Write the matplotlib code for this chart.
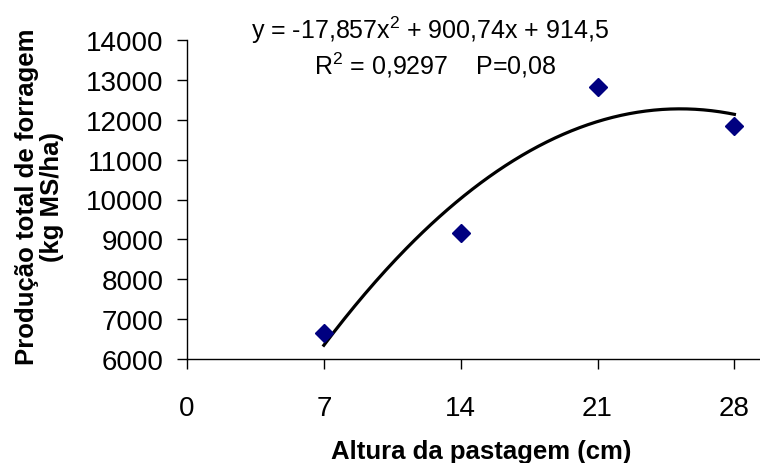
import numpy as np
import matplotlib
matplotlib.use('Agg')
import matplotlib.pyplot as plt

plt.rcParams['font.family'] = ['Liberation Sans', 'DejaVu Sans']
plt.rcParams['mathtext.fontset'] = 'custom'
plt.rcParams['mathtext.rm'] = 'Liberation Sans'
plt.rcParams['mathtext.default'] = 'regular'

# observed data
altura = [7, 14, 21, 28]
producao = [6650, 9160, 12820, 11845]

# quadratic trend line coefficients (a, b, c) as shown on the chart
coef = [-17.857, 900.74, 914.5]

x_ticks = [0, 7, 14, 21, 28]
y_ticks = [6000, 7000, 8000, 9000, 10000, 11000, 12000, 13000, 14000]

fig = plt.figure(figsize=(7.6, 4.64), dpi=100)
ax = fig.add_axes([187 / 760, 104 / 464, 573 / 760, 319 / 464])

x_fit = np.linspace(min(altura), max(altura), 200)
y_fit = np.polyval(coef, x_fit)
ax.plot(x_fit, y_fit, color='black', linewidth=2.3, zorder=2)
ax.plot(altura, producao, linestyle='none', marker='D', markersize=9,
        color='#000080', zorder=3)

ax.set_xlim(0, 573 / 19.55)
ax.set_ylim(6000, 14000)
ax.set_xticks(x_ticks)
ax.set_yticks(y_ticks)
ax.tick_params(axis='x', direction='out', length=7, width=1, labelsize=20, pad=19)
ax.tick_params(axis='y', direction='out', length=7, width=1, labelsize=20, pad=10)

for side in ['top', 'right']:
    ax.spines[side].set_visible(False)
for side in ['left', 'bottom']:
    ax.spines[side].set_linewidth(1)

ax.set_xlabel('Altura da pastagem (cm)', fontsize=18.5, fontweight='bold',
              va='center')
ax.xaxis.set_label_coords((481 - 187) / 573, -(452 - 360) / 319)
ax.set_ylabel('Produção total de forragem\n(kg MS/ha)', fontsize=18.5,
              fontweight='bold', linespacing=1.0, va='center', ha='center')
ax.yaxis.set_label_coords((39.5 - 187) / 573, (360 - 197) / 319)

fig.text(430 / 760, 1 - 30 / 464, 'y = -17,857x$^2$ + 900,74x + 914,5',
         fontsize=18, ha='center', va='center')
fig.text(435 / 760, 1 - 65 / 464, 'R$^2$ = 0,9297    P=0,08',
         fontsize=18, ha='center', va='center')

fig.savefig('out.png', dpi=100)
